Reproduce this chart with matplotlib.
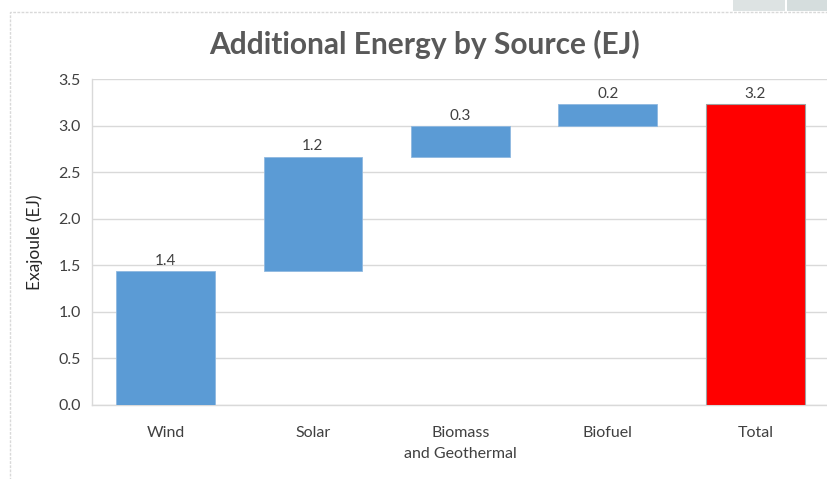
import matplotlib
matplotlib.use("Agg")
import matplotlib.pyplot as plt
from matplotlib.patches import Rectangle

categories = ["Wind", "Solar", "Biomass\nand Geothermal", "Biofuel", "Total"]
increments = [1.44, 1.23, 0.33, 0.23]
total_value = 3.23
yticks = [0.0, 0.5, 1.0, 1.5, 2.0, 2.5, 3.0, 3.5]

plt.rcParams['font.family'] = ['Lato', 'DejaVu Sans']

W, H = 827, 479
fig = plt.figure(figsize=(W / 100, H / 100), dpi=100)
fig.patch.set_facecolor("white")

# outer chart border (screenshot frame)
fig.add_artist(Rectangle((9.5 / W, -0.1), 2.0, (H - 11.5) / H + 0.1, transform=fig.transFigure,
                         fill=False, edgecolor="#d9d9d9", linewidth=1.0, linestyle=(0, (2, 1))))
# screenshot artifact at top right
fig.add_artist(Rectangle((733 / W, (H - 11) / H), 52 / W, 11 / H, transform=fig.transFigure,
                         facecolor="#dde3e3", edgecolor="none"))
fig.add_artist(Rectangle((787 / W, (H - 11) / H), 40 / W, 11 / H, transform=fig.transFigure,
                         facecolor="#d5dddd", edgecolor="none"))

left, right = 91.75, 829.0
top, bottom = 79.3, 405.0
ax = fig.add_axes([left / W, (H - bottom) / H, (right - left) / W, (bottom - top) / H])

blue = "#5B9BD5"
red = "#FF0000"
text_c = "#404040"

bottoms = []
cum = 0.0
for v in increments:
    bottoms.append(cum)
    cum += v

x = list(range(len(categories)))
bw = 0.67
ax.bar(x[:4], increments, bottom=bottoms, width=bw, color=blue, edgecolor="#8fb8e0", linewidth=0.6, zorder=3)
ax.bar(x[4], total_value, width=bw, color=red, edgecolor="#a0a0a0", linewidth=0.8, zorder=3)

for i, (v, b) in enumerate(zip(increments, bottoms)):
    ax.text(i, b + v + 0.035, f"{v:.1f}", ha="center", va="bottom", fontsize=11, color=text_c)
ax.text(4, total_value + 0.035, f"{total_value:.1f}", ha="center", va="bottom", fontsize=11, color=text_c)

ax.set_xlim(-0.5, 4.5)
ax.set_ylim(0, 3.5)
ax.set_yticks(yticks)
ax.set_yticklabels([f"{t:.1f}" for t in yticks], fontsize=11.5, color=text_c)
ax.set_xticks(x)
ax.set_xticklabels(categories, fontsize=11.5, color=text_c, linespacing=1.65)
ax.tick_params(axis="both", length=0)
ax.tick_params(axis="x", pad=15)
ax.tick_params(axis="y", pad=8)
ax.grid(axis="y", color="#d9d9d9", linewidth=1.0, zorder=0)
ax.set_axisbelow(True)
for s in ["top", "right"]:
    ax.spines[s].set_visible(False)
ax.spines["left"].set_color("#d9d9d9")
ax.spines["bottom"].set_color("#d9d9d9")
ax.spines["left"].set_linewidth(1.0)
ax.spines["bottom"].set_linewidth(1.0)

ax.set_ylabel("Exajoule (EJ)", fontsize=12.5, color="#262626", labelpad=11)

fig.text(425 / W, 1 - 44 / H, "Additional Energy by Source (EJ)", ha="center", va="center",
         fontsize=21.5, fontweight="bold", color="#595959")

fig.savefig("out.png", dpi=100, facecolor="white")
